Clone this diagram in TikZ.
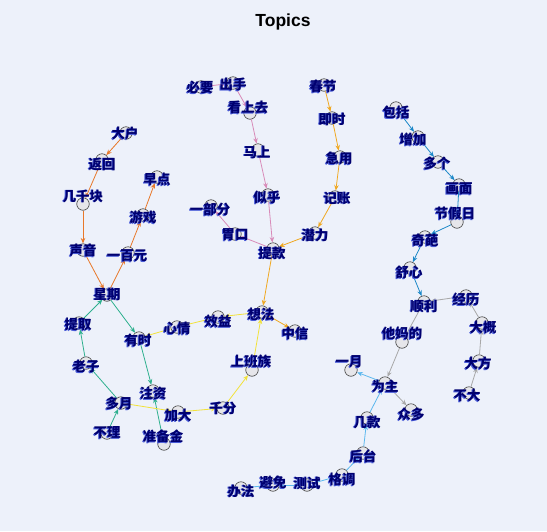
\documentclass[tikz,border=0pt]{standalone}
\usepackage{fontspec}
\setmainfont{Liberation Sans}
\newfontfamily\cjk{Noto Sans CJK SC}
\usetikzlibrary{arrows.meta}
\definecolor{bgc}{HTML}{EDF1FA}
\definecolor{navy}{HTML}{000070}
\definecolor{shad}{HTML}{4A5CD8}
\definecolor{corange}{HTML}{E8782A}
\definecolor{cteal}{HTML}{2EB08E}
\definecolor{cyellow}{HTML}{F2E23A}
\definecolor{camber}{HTML}{F0A820}
\definecolor{cpink}{HTML}{D88AB8}
\definecolor{cblue}{HTML}{1C88C8}
\definecolor{cgray}{HTML}{A8A8A8}
\definecolor{clblue}{HTML}{5CB8EE}
\tikzset{
  dot/.style={circle,draw={rgb,255:red,60;green,60;blue,60},line width=0.6pt,fill={rgb,255:red,230;green,230;blue,234},minimum size=12.5pt,inner sep=0pt},
  lab/.style={text=navy,font=\cjk\bfseries\fontsize{13.5}{14}\selectfont,inner sep=0pt},
  labshadow/.style={text=shad,font=\cjk\bfseries\fontsize{13.5}{14}\selectfont,inner sep=0pt},
  edge/.style={line width=0.8pt,-{Stealth[length=5.5pt,width=4.5pt]}},
  eo/.style={edge,draw=corange},
  et/.style={edge,draw=cteal},
  ey/.style={edge,draw=cyellow},
  ea/.style={edge,draw=camber},
  ep/.style={edge,draw=cpink},
  eb/.style={edge,draw=cblue},
  eg/.style={edge,draw=cgray},
  el/.style={edge,draw=clblue},
}
\newcommand{\dotnode}[3]{\node[dot] (#1) at (#2,#3) {};}
\newcommand{\labnode}[4]{\node[labshadow] (#1s) at (#2-0.9,#3+0.9) {#4};\node[lab] (#1l) at (#2,#3) {#4};}
\begin{document}
\begin{tikzpicture}[x=1pt,y=-1pt]
\fill[bgc] (0,0) rectangle (547,531);
\useasboundingbox (0,0) rectangle (547,531);
\node[font=\bfseries\fontsize{17.5}{20}\selectfont] (title) at (283,22) {Topics};
% dots
\dotnode{dahu}{126}{133}
\dotnode{fanhui}{102}{160}
\dotnode{jiqiankuai}{83}{204}
\dotnode{shengyin}{83}{250}
\dotnode{yibaiyuan}{128}{253}
\dotnode{youxi}{143}{215}
\dotnode{zaodian}{157}{177}
\dotnode{xingqi}{107}{295}
\dotnode{tiqu}{79}{323}
\dotnode{youshi}{139}{338}
\dotnode{xinqing}{177}{327}
\dotnode{xiaoyi}{218}{317}
\dotnode{laozi}{86}{363}
\dotnode{duoyue}{121}{403}
\dotnode{buli}{107}{433}
\dotnode{zhuzi}{153}{391}
\dotnode{jiada}{178}{412}
\dotnode{zhunbeijin}{164}{444}
\dotnode{qianfen}{223}{408}
\dotnode{xiangfa}{262}{312}
\dotnode{zhongxin}{295}{331}
\dotnode{shangbanzu}{252}{370}
\dotnode{biyao}{201}{87}
\dotnode{chushou}{233}{83}
\dotnode{kanshangqu}{250}{113}
\dotnode{mashang}{258}{150}
\dotnode{sihu}{268}{195}
\dotnode{yibufen}{211}{206}
\dotnode{weikou}{235}{234}
\dotnode{tikuan}{273}{249}
\dotnode{chunjie}{324}{85}
\dotnode{jishi}{332}{118}
\dotnode{jiyong}{340}{157}
\dotnode{jizhang}{335}{197}
\dotnode{qianli}{315}{233}
\dotnode{baokuo}{396}{108}
\dotnode{zengjia}{418}{137}
\dotnode{duoge}{438}{162}
\dotnode{huamian}{459}{185}
\dotnode{jiejiari}{457}{222}
\dotnode{qipa}{425}{237}
\dotnode{shuxin}{410}{268}
\dotnode{shunli}{424}{302}
\dotnode{jingli}{466}{296}
\dotnode{dagai}{482}{323}
\dotnode{dafang}{479}{361}
\dotnode{buda}{469}{393}
\dotnode{tamade}{402}{342}
\dotnode{yiyue}{351}{370}
\dotnode{weizhu}{385}{383}
\dotnode{zhongduo}{411}{410}
\dotnode{jikuan}{367}{418}
\dotnode{houtai}{363}{453}
\dotnode{gediao}{342}{475}
\dotnode{ceshi}{307}{485}
\dotnode{bimian}{273}{485}
\dotnode{banfa}{241}{488}
% edges
\draw[eo] (dahu) -- (fanhui);
\draw[eo] (fanhui) -- (jiqiankuai);
\draw[eo] (jiqiankuai) -- (shengyin);
\draw[eo] (shengyin) -- (xingqi);
\draw[eo] (xingqi) -- (yibaiyuan);
\draw[eo] (yibaiyuan) -- (youxi);
\draw[eo] (youxi) -- (zaodian);
\draw[et] (xingqi) -- (youshi);
\draw[et] (tiqu) -- (xingqi);
\draw[et] (laozi) -- (tiqu);
\draw[et] (duoyue) -- (laozi);
\draw[et] (buli) -- (duoyue);
\draw[et] (youshi) -- (zhuzi);
\draw[et] (zhunbeijin) -- (zhuzi);
\draw[ey] (duoyue) -- (jiada);
\draw[ey] (jiada) -- (qianfen);
\draw[ey] (qianfen) -- (shangbanzu);
\draw[ey] (shangbanzu) -- (xiangfa);
\draw[ey] (xiangfa) -- (xiaoyi);
\draw[ey] (xiaoyi) -- (xinqing);
\draw[ey] (xinqing) -- (youshi);
\draw[ea] (chunjie) -- (jishi);
\draw[ea] (jishi) -- (jiyong);
\draw[ea] (jiyong) -- (jizhang);
\draw[ea] (jizhang) -- (qianli);
\draw[ea] (qianli) -- (tikuan);
\draw[ea] (tikuan) -- (xiangfa);
\draw[ea] (xiangfa) -- (zhongxin);
\draw[ep] (biyao) -- (chushou);
\draw[ep] (chushou) -- (kanshangqu);
\draw[ep] (kanshangqu) -- (mashang);
\draw[ep] (mashang) -- (sihu);
\draw[ep] (sihu) -- (tikuan);
\draw[ep] (tikuan) -- (weikou);
\draw[ep] (weikou) -- (yibufen);
\draw[eb] (baokuo) -- (zengjia);
\draw[eb] (zengjia) -- (duoge);
\draw[eb] (duoge) -- (huamian);
\draw[eb] (huamian) -- (jiejiari);
\draw[eb] (jiejiari) -- (qipa);
\draw[eb] (qipa) -- (shuxin);
\draw[eb] (shuxin) -- (shunli);
\draw[eg] (shunli) -- (tamade);
\draw[eg] (tamade) -- (weizhu);
\draw[eg] (weizhu) -- (zhongduo);
\draw[eg] (jingli) -- (shunli);
\draw[eg] (buda) -- (dafang);
\draw[eg] (dafang) -- (dagai);
\draw[eg] (dagai) -- (jingli);
\draw[el] (weizhu) -- (yiyue);
\draw[el] (jikuan) -- (weizhu);
\draw[el] (houtai) -- (jikuan);
\draw[el] (gediao) -- (houtai);
\draw[el] (ceshi) -- (gediao);
\draw[el] (bimian) -- (ceshi);
\draw[el] (banfa) -- (bimian);
% labels
\labnode{dahu}{125}{133}{大户}
\labnode{fanhui}{102}{164}{返回}
\labnode{jiqiankuai}{83}{196}{几千块}
\labnode{shengyin}{83}{250}{声音}
\labnode{yibaiyuan}{127}{256}{一百元}
\labnode{youxi}{143}{217}{游戏}
\labnode{zaodian}{157}{179}{早点}
\labnode{xingqi}{107}{294}{星期}
\labnode{tiqu}{78}{324}{提取}
\labnode{youshi}{138}{340}{有时}
\labnode{xinqing}{177}{328}{心情}
\labnode{xiaoyi}{218}{321}{效益}
\labnode{laozi}{86}{366}{老子}
\labnode{duoyue}{119}{403}{多月}
\labnode{buli}{107}{433}{不理}
\labnode{zhuzi}{153}{393}{注资}
\labnode{jiada}{178}{415}{加大}
\labnode{zhunbeijin}{163}{436}{准备金}
\labnode{qianfen}{223}{408}{千分}
\labnode{xiangfa}{261}{314}{想法}
\labnode{zhongxin}{295}{333}{中信}
\labnode{shangbanzu}{251}{361}{上班族}
\labnode{biyao}{200}{87}{必要}
\labnode{chushou}{233}{84}{出手}
\labnode{kanshangqu}{248}{107}{看上去}
\labnode{mashang}{257}{152}{马上}
\labnode{sihu}{267}{197}{似乎}
\labnode{yibufen}{210}{209}{一部分}
\labnode{weikou}{235}{235}{胃口}
\labnode{tikuan}{272}{253}{提款}
\labnode{chunjie}{323}{86}{春节}
\labnode{jishi}{332}{119}{即时}
\labnode{jiyong}{339}{158}{急用}
\labnode{jizhang}{337}{198}{记账}
\labnode{qianli}{315}{235}{潜力}
\labnode{baokuo}{396}{112}{包括}
\labnode{zengjia}{413}{139}{增加}
\labnode{duoge}{437}{163}{多个}
\labnode{huamian}{459}{189}{画面}
\labnode{jiejiari}{455}{213}{节假日}
\labnode{qipa}{425}{240}{奇葩}
\labnode{shuxin}{409}{272}{舒心}
\labnode{shunli}{424}{306}{顺利}
\labnode{jingli}{466}{299}{经历}
\labnode{dagai}{483}{327}{大概}
\labnode{dafang}{478}{363}{大方}
\labnode{buda}{467}{395}{不大}
\labnode{tamade}{402}{333}{他妈的}
\labnode{yiyue}{349}{362}{一月}
\labnode{weizhu}{385}{386}{为主}
\labnode{zhongduo}{411}{414}{众多}
\labnode{jikuan}{367}{422}{几款}
\labnode{houtai}{363}{456}{后台}
\labnode{gediao}{342}{479}{格调}
\labnode{ceshi}{307}{483}{测试}
\labnode{bimian}{273}{482}{避免}
\labnode{banfa}{241}{491}{办法}
\end{tikzpicture}
\end{document}
